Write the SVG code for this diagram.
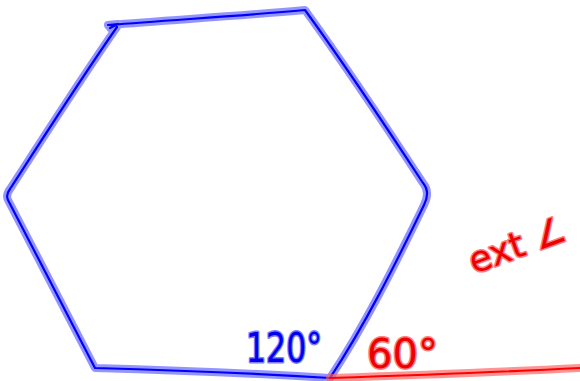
<svg xmlns="http://www.w3.org/2000/svg" width="580" height="381" viewBox="0 0 580 381">
<style>
.bg{fill:none;stroke-linecap:round;stroke-linejoin:round;stroke-width:8;opacity:0.65}
.fg{fill:none;stroke-linecap:round;stroke-linejoin:round;stroke-width:2.2}
.b.bg{stroke:#5a5aff}
.b.fg{stroke:#0000ff}
.r.bg{stroke:#ff5a5a}
.r.fg{stroke:#ff0000}
.t{font-family:"Comic Sans MS","DejaVu Sans",sans-serif;stroke-linejoin:round;paint-order:stroke}
.tb{fill:#0000ee;stroke:#8080ff;stroke-width:3}
.tr{fill:#ee0000;stroke:#ff8080;stroke-width:3}
</style>
<g id="hexagon">
<path class="b bg" d="M108,25 L118,24 L110,28 M110,25 C170,20 240,16 305,10 C345,65 385,125 423,183 C429,190 428,197 424,205 C395,265 365,325 330,378 C250,373 170,370 95,368 C67,315 38,258 8,200 C6,196 7,193 10,189 C45,135 80,80 117,27"/>
<path class="b fg" d="M108,25 L118,24 L110,28 M110,25 C170,20 240,16 305,10 C345,65 385,125 423,183 C429,190 428,197 424,205 C395,265 365,325 330,378 C250,373 170,370 95,368 C67,315 38,258 8,200 C6,196 7,193 10,189 C45,135 80,80 117,27"/>
</g>
<g id="extension">
<path class="r bg" d="M330,378 C420,375 500,372 580,368"/>
<path class="r fg" d="M330,378 C420,375 500,372 580,368"/>
</g>
<g id="labels">
<text class="t tb" x="246" y="362" font-size="40" textLength="76" lengthAdjust="spacingAndGlyphs">120°</text>
<text class="t tr" x="367" y="368" font-size="40">60°</text>
<text class="t tr" x="474" y="274" font-size="36" transform="rotate(-20 474 274)">ext ∠</text>
</g>
</svg>
